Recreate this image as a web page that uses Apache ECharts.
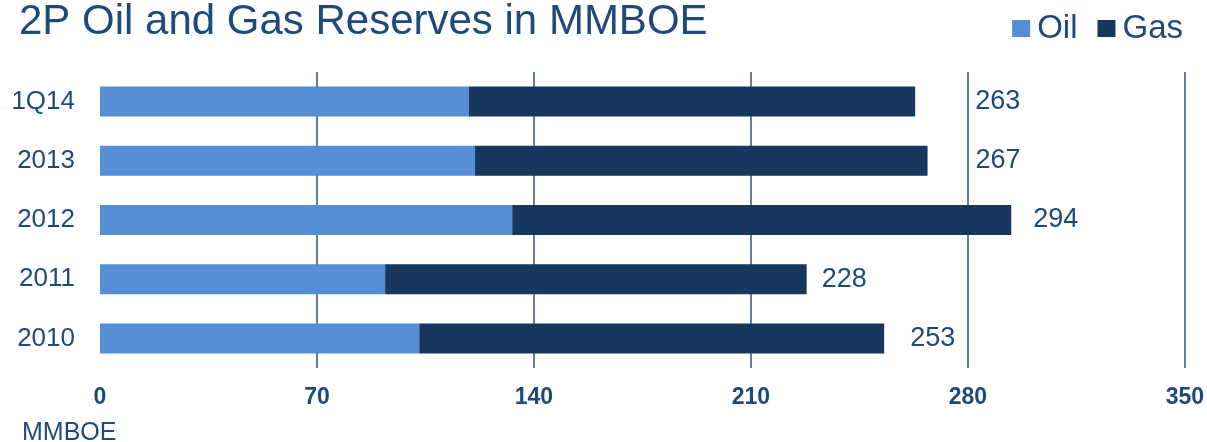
<!DOCTYPE html>
<html>
<head>
<meta charset="utf-8">
<script src="https://cdn.jsdelivr.net/npm/echarts@6/dist/echarts.min.js"></script>
<style>
  html, body { margin: 0; padding: 0; background: #fff; }
  #chart { width: 1207px; height: 442px; }
</style>
</head>
<body>
<div id="chart"></div>
<script>
// ---- data ----
const categories = ['1Q14', '2013', '2012', '2011', '2010'];
const oilValues = [119, 121, 133, 92, 103];
const gasValues = [144, 146, 161, 136, 150];
const totalValues = [263, 267, 294, 228, 253];
const xTicks = [0, 70, 140, 210, 280, 350];

// ---- style ----
const labelDistance = [60, 48, 22, 15, 26];
const textColor = '#1F497D';
const gridColor = '#2B5283';
const font = 'Liberation Sans, Arial, sans-serif';

const chart = echarts.init(document.getElementById('chart'), null, { renderer: 'canvas' });

const gasData = gasValues.map((v, i) => ({
  value: v,
  label: { distance: labelDistance[i] }
}));

chart.setOption({
  animation: false,
  textStyle: { fontFamily: font },
  graphic: [
    {
      type: 'text', x: 19, y: 22,
      style: { text: '2P Oil and Gas Reserves in MMBOE', fill: textColor, fontSize: 42, fontFamily: font, verticalAlign: 'middle', align: 'left' }
    },
    {
      type: 'text', x: 22, y: 433,
      style: { text: 'MMBOE', fill: textColor, fontSize: 25, fontFamily: font, verticalAlign: 'middle', align: 'left' }
    }
  ],
  legend: {
    right: 19, top: 7,
    itemWidth: 18, itemHeight: 17, itemGap: 20,
    icon: 'rect',
    textStyle: { fontSize: 33, color: textColor, fontFamily: font, padding: [0, 0, 0, 2] },
    data: ['Oil', 'Gas']
  },
  grid: { left: 100, right: 21, top: 72, bottom: 74, containLabel: false },
  xAxis: {
    type: 'value', min: xTicks[0], max: xTicks[xTicks.length - 1], interval: xTicks[1] - xTicks[0],
    axisLine: { show: false }, axisTick: { show: false },
    axisLabel: { color: textColor, fontSize: 23, fontWeight: 'bold', margin: 18, fontFamily: font },
    splitLine: { show: true, lineStyle: { color: ['transparent', gridColor, gridColor, gridColor, gridColor, gridColor], width: 1.5 } }
  },
  yAxis: {
    type: 'category', data: categories, inverse: true,
    axisLine: { show: false }, axisTick: { show: false },
    axisLabel: { color: textColor, fontSize: 26, margin: 25, fontFamily: font }
  },
  series: [
    {
      name: 'Oil', type: 'bar', stack: 'total', data: oilValues, barWidth: 30,
      itemStyle: { color: '#558ED5' }
    },
    {
      name: 'Gas', type: 'bar', stack: 'total', data: gasData, barWidth: 30,
      itemStyle: { color: '#17375E' },
      label: {
        show: true, position: 'right', color: textColor, fontSize: 27, fontFamily: font,
        formatter: p => String(totalValues[p.dataIndex])
      }
    }
  ]
});
</script>
</body>
</html>
